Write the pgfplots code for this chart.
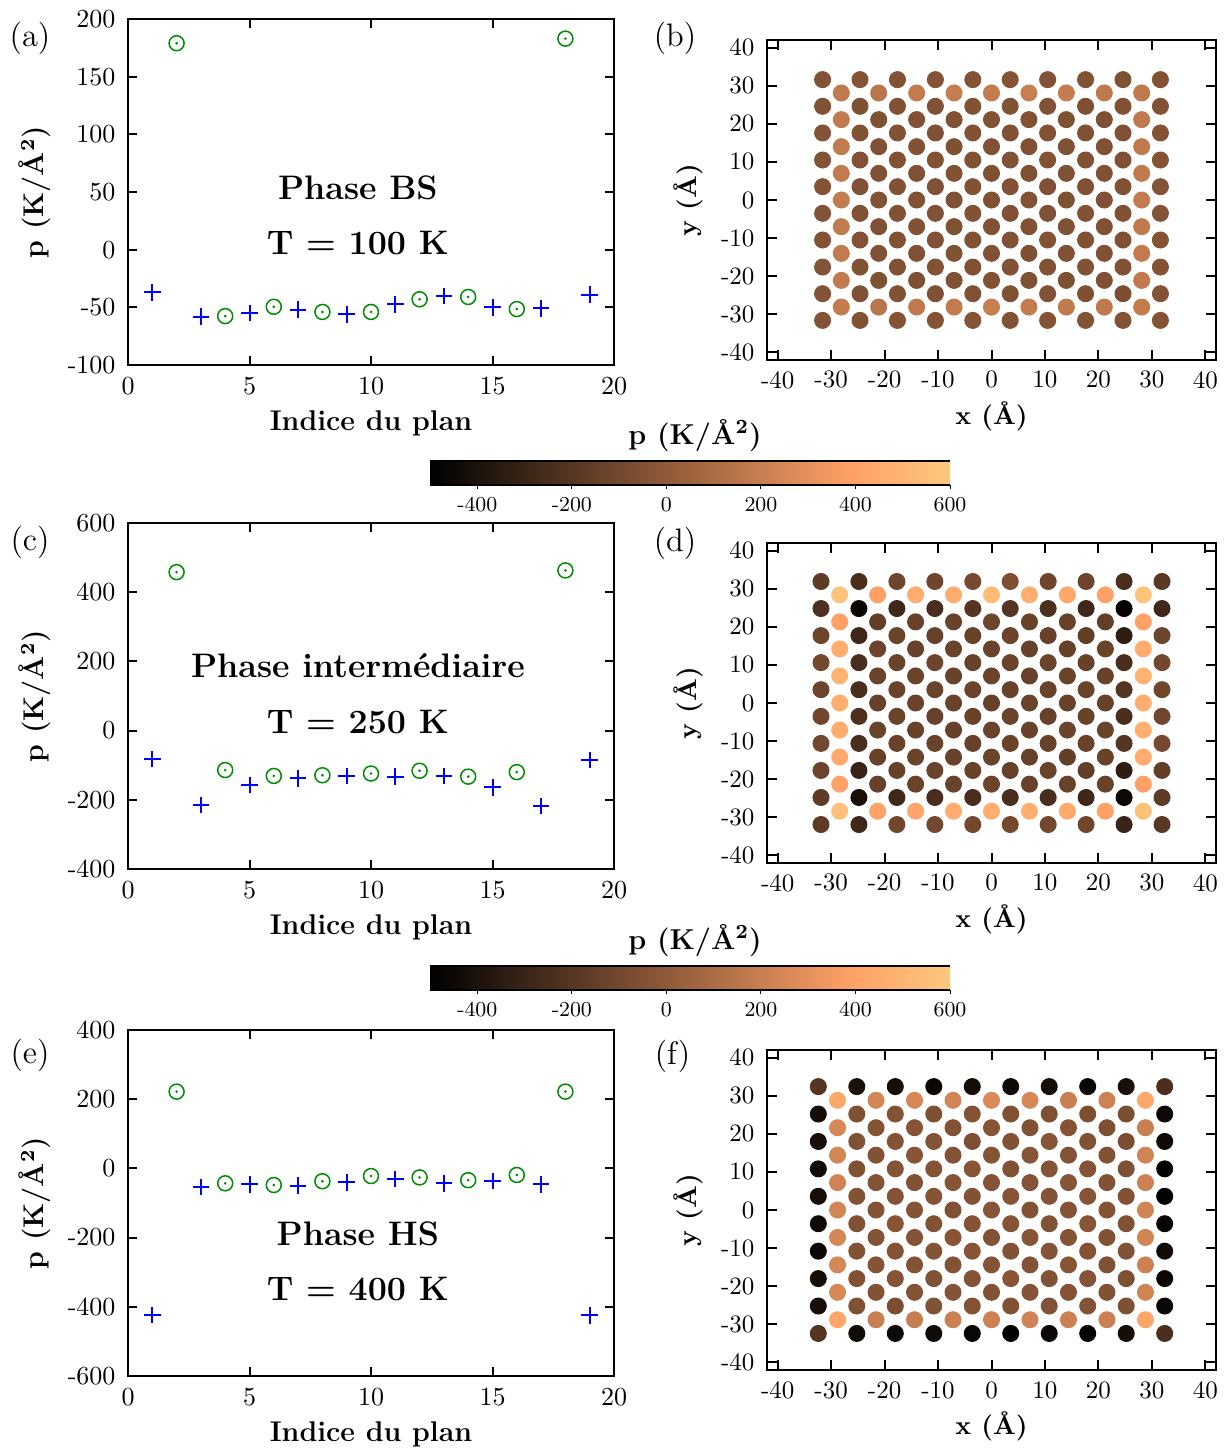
\documentclass[border=0pt]{standalone}
\usepackage{pgfplots}
\usepackage{pgfplotstable}
\pgfplotsset{compat=1.18}
\definecolor{copkink}{rgb}{1,0.6324,0.4027}
\definecolor{copend}{rgb}{1,0.7812,0.4975}
\pgfplotsset{
  colormap={copperx}{rgb(0cm)=(0,0,0) rgb(8.095cm)=(1,0.6324,0.4027) rgb(10cm)=(1,0.7812,0.4975)},
  leftax/.style={
    scale only axis, width=194.4pt, height=138.4pt,
    xmin=0, xmax=20, xtick={0,5,10,15,20}, xticklabels={0,5,10,15,20},
    tick align=inside, major tick length=3.5pt,
    axis line style={line width=0.8pt}, tick style={line width=0.8pt, black},
    ticklabel style={font=\fontsize{10.4}{12}\selectfont},
    xticklabel style={yshift=-1.5pt}, yticklabel style={xshift=-1.5pt},
    label style={font=\fontsize{11.4}{13}\selectfont},
    xlabel={\textbf{Indice du plan}},
    ylabel={\textbf{p (K/\AA$^{\mathbf{2}}$)}},
    xlabel style={at={(axis description cs:0.5,-0.168)}, anchor=center},
    ylabel style={at={(axis description cs:-0.191,0.5)}, anchor=center},
  },
  mapax/.style={
    scale only axis, width=179.6pt, height=128pt,
    xmin=-42, xmax=42, ymin=-42, ymax=42,
    xtick={-40,-30,...,40}, ytick={-40,-30,...,40},
    xticklabels={-40,-30,-20,-10,0,10,20,30,40},
    yticklabels={-40,-30,-20,-10,0,10,20,30,40},
    tick align=inside, major tick length=4pt,
    axis line style={line width=0.8pt}, tick style={line width=0.8pt, black},
    ticklabel style={font=\fontsize{10}{12}\selectfont},
    xticklabel style={yshift=-1pt}, yticklabel style={xshift=-1.5pt},
    label style={font=\fontsize{10.5}{12}\selectfont},
    xlabel={\textbf{x (\AA)}}, ylabel={\textbf{y (\AA)}},
    xlabel style={at={(axis description cs:0.5,-0.175)}, anchor=center},
    ylabel style={at={(axis description cs:-0.176,0.5)}, anchor=center},
    point meta min=-500, point meta max=600, colormap name=copperx,
  },
  dots/.style={scatter, only marks, mark=*, mark size=3.2pt,
    scatter src=explicit,
    scatter/use mapped color={draw=mapped color, fill=mapped color}},
  crosses/.style={only marks, mark=+, blue, mark size=3.3pt, mark options={line width=0.8pt}},
  circs/.style={only marks, mark=o, color={rgb,1:red,0;green,0.55;blue,0}, mark size=3pt, mark options={line width=0.6pt}},
  cdots/.style={only marks, mark=*, color={rgb,1:red,0;green,0.55;blue,0}, mark size=0.3pt},
  cbarax/.style={scale only axis, width=208pt, height=9.6pt,
    xmin=-500, xmax=600, ymin=0, ymax=1, ytick=\empty,
    xtick={-400,-200,0,200,400,600}, xticklabels={-400,-200,0,200,400,600},
    xtick pos=lower, tick align=outside, major tick length=1.5pt, tick style={black, line width=0.4pt},
    separate axis lines, y axis line style={draw=none},
    x axis line style={line width=0.6pt}, axis on top,
    xticklabel style={font=\fontsize{8.5}{10}\selectfont},
  },
}

\pgfplotstableread[row sep=\\]{
x y p\\
-31.6 31.6 -45\\ -24.6 31.6 -40\\ -17.6 31.6 -48\\ -10.5 31.6 -42\\ -3.5 31.6 -40\\ 3.5 31.6 -38\\ 10.5 31.6 -45\\ 17.6 31.6 -48\\ 24.6 31.6 -55\\ 31.6 31.6 -45\\
-28.1 28.1 175\\ -21.1 28.1 150\\ -14.0 28.1 180\\ -7.0 28.1 190\\ 0 28.1 185\\ 7.0 28.1 195\\ 14.0 28.1 185\\ 21.1 28.1 170\\ 28.1 28.1 170\\
-31.6 24.6 -45\\ -24.6 24.6 -55\\ -17.6 24.6 -52\\ -10.5 24.6 -45\\ -3.5 24.6 -50\\ 3.5 24.6 -48\\ 10.5 24.6 -45\\ 17.6 24.6 -60\\ 24.6 24.6 -50\\ 31.6 24.6 -45\\
-28.1 21.1 175\\ -21.1 21.1 -55\\ -14.0 21.1 -50\\ -7.0 21.1 -52\\ 0 21.1 -48\\ 7.0 21.1 -50\\ 14.0 21.1 -55\\ 21.1 21.1 -60\\ 28.1 21.1 170\\
-31.6 17.6 -40\\ -24.6 17.6 -50\\ -17.6 17.6 -48\\ -10.5 17.6 -52\\ -3.5 17.6 -45\\ 3.5 17.6 -50\\ 10.5 17.6 -48\\ 17.6 17.6 -50\\ 24.6 17.6 -52\\ 31.6 17.6 -40\\
-28.1 14.0 178\\ -21.1 14.0 -52\\ -14.0 14.0 -48\\ -7.0 14.0 -55\\ 0 14.0 -50\\ 7.0 14.0 -52\\ 14.0 14.0 -50\\ 21.1 14.0 -55\\ 28.1 14.0 175\\
-31.6 10.5 -42\\ -24.6 10.5 -48\\ -17.6 10.5 -50\\ -10.5 10.5 -45\\ -3.5 10.5 -50\\ 3.5 10.5 -48\\ 10.5 10.5 -45\\ 17.6 10.5 -50\\ 24.6 10.5 -52\\ 31.6 10.5 -40\\
-28.1 7.0 180\\ -21.1 7.0 -50\\ -14.0 7.0 -52\\ -7.0 7.0 -48\\ 0 7.0 -55\\ 7.0 7.0 -50\\ 14.0 7.0 -52\\ 21.1 7.0 -50\\ 28.1 7.0 172\\
-31.6 3.5 -40\\ -24.6 3.5 -52\\ -17.6 3.5 -45\\ -10.5 3.5 -50\\ -3.5 3.5 -48\\ 3.5 3.5 -45\\ 10.5 3.5 -50\\ 17.6 3.5 -52\\ 24.6 3.5 -45\\ 31.6 3.5 -42\\
-28.1 0 182\\ -21.1 0 -48\\ -14.0 0 -50\\ -7.0 0 -52\\ 0 0 -50\\ 7.0 0 -48\\ 14.0 0 -50\\ 21.1 0 -52\\ 28.1 0 185\\
-31.6 -3.5 -42\\ -24.6 -3.5 -50\\ -17.6 -3.5 -52\\ -10.5 -3.5 -48\\ -3.5 -3.5 -45\\ 3.5 -3.5 -50\\ 10.5 -3.5 -52\\ 17.6 -3.5 -45\\ 24.6 -3.5 -50\\ 31.6 -3.5 -40\\
-28.1 -7.0 178\\ -21.1 -7.0 -52\\ -14.0 -7.0 -48\\ -7.0 -7.0 -50\\ 0 -7.0 -52\\ 7.0 -7.0 -50\\ 14.0 -7.0 -48\\ 21.1 -7.0 -50\\ 28.1 -7.0 175\\
-31.6 -10.5 -40\\ -24.6 -10.5 -45\\ -17.6 -10.5 -50\\ -10.5 -10.5 -52\\ -3.5 -10.5 -48\\ 3.5 -10.5 -50\\ 10.5 -10.5 -45\\ 17.6 -10.5 -48\\ 24.6 -10.5 -50\\ 31.6 -10.5 -42\\
-28.1 -14.0 180\\ -21.1 -14.0 -50\\ -14.0 -14.0 -52\\ -7.0 -14.0 -48\\ 0 -14.0 -50\\ 7.0 -14.0 -55\\ 14.0 -14.0 -50\\ 21.1 -14.0 -52\\ 28.1 -14.0 180\\
-31.6 -17.6 -42\\ -24.6 -17.6 -48\\ -17.6 -17.6 -50\\ -10.5 -17.6 -45\\ -3.5 -17.6 -50\\ 3.5 -17.6 -48\\ 10.5 -17.6 -50\\ 17.6 -17.6 -45\\ 24.6 -17.6 -48\\ 31.6 -17.6 -40\\
-28.1 -21.1 175\\ -21.1 -21.1 -55\\ -14.0 -21.1 -60\\ -7.0 -21.1 -52\\ 0 -21.1 -50\\ 7.0 -21.1 -55\\ 14.0 -21.1 -62\\ 21.1 -21.1 -58\\ 28.1 -21.1 172\\
-31.6 -24.6 -40\\ -24.6 -24.6 -52\\ -17.6 -24.6 -48\\ -10.5 -24.6 -50\\ -3.5 -24.6 -52\\ 3.5 -24.6 -50\\ 10.5 -24.6 -48\\ 17.6 -24.6 -55\\ 24.6 -24.6 -70\\ 31.6 -24.6 -42\\
-28.1 -28.1 185\\ -21.1 -28.1 150\\ -14.0 -28.1 170\\ -7.0 -28.1 180\\ 0 -28.1 190\\ 7.0 -28.1 185\\ 14.0 -28.1 175\\ 21.1 -28.1 170\\ 28.1 -28.1 180\\
-31.6 -31.6 -42\\ -24.6 -31.6 -45\\ -17.6 -31.6 -40\\ -10.5 -31.6 -42\\ -3.5 -31.6 -38\\ 3.5 -31.6 -45\\ 10.5 -31.6 -40\\ 17.6 -31.6 -42\\ 24.6 -31.6 -45\\ 31.6 -31.6 -40\\
}\tabB

\pgfplotstableread[row sep=\\]{
x y p\\
-31.9 31.9 -175\\ -24.8 31.9 -245\\ -17.7 31.9 -113\\ -10.6 31.9 -113\\ -3.5 31.9 -89\\ 3.5 31.9 -61\\ 10.6 31.9 -113\\ 17.7 31.9 -119\\ 24.8 31.9 -245\\ 31.9 31.9 -190\\
-28.4 28.4 570\\ -21.3 28.4 390\\ -14.2 28.4 450\\ -7.1 28.4 450\\ 0 28.4 540\\ 7.1 28.4 460\\ 14.2 28.4 430\\ 21.3 28.4 390\\ 28.4 28.4 570\\
-31.9 24.8 -230\\ -24.8 24.8 -460\\ -17.7 24.8 -280\\ -10.6 24.8 -245\\ -3.5 24.8 -207\\ 3.5 24.8 -207\\ 10.6 24.8 -230\\ 17.7 24.8 -280\\ 24.8 24.8 -480\\ 31.9 24.8 -280\\
-28.4 21.3 390\\ -21.3 21.3 -150\\ -14.2 21.3 -140\\ -7.1 21.3 -135\\ 0 21.3 -120\\ 7.1 21.3 -135\\ 14.2 21.3 -140\\ 21.3 21.3 -150\\ 28.4 21.3 390\\
-31.9 17.7 -120\\ -24.8 17.7 -280\\ -17.7 17.7 -130\\ -10.6 17.7 -140\\ -3.5 17.7 -135\\ 3.5 17.7 -125\\ 10.6 17.7 -140\\ 17.7 17.7 -150\\ 24.8 17.7 -340\\ 31.9 17.7 -120\\
-28.4 14.2 450\\ -21.3 14.2 -125\\ -14.2 14.2 -140\\ -7.1 14.2 -130\\ 0 14.2 -135\\ 7.1 14.2 -140\\ 14.2 14.2 -145\\ 21.3 14.2 -130\\ 28.4 14.2 450\\
-31.9 10.6 -100\\ -24.8 10.6 -245\\ -17.7 10.6 -135\\ -10.6 10.6 -120\\ -3.5 10.6 -140\\ 3.5 10.6 -130\\ 10.6 10.6 -125\\ 17.7 10.6 -140\\ 24.8 10.6 -245\\ 31.9 10.6 -100\\
-28.4 7.1 490\\ -21.3 7.1 -130\\ -14.2 7.1 -125\\ -7.1 7.1 -135\\ 0 7.1 -130\\ 7.1 7.1 -140\\ 14.2 7.1 -130\\ 21.3 7.1 -135\\ 28.4 7.1 490\\
-31.9 3.5 -120\\ -24.8 3.5 -245\\ -17.7 3.5 -135\\ -10.6 3.5 -130\\ -3.5 3.5 -125\\ 3.5 3.5 -140\\ 10.6 3.5 -135\\ 17.7 3.5 -130\\ 24.8 3.5 -207\\ 31.9 3.5 -110\\
-28.4 0 460\\ -21.3 0 -140\\ -14.2 0 -130\\ -7.1 0 -135\\ 0 0 -145\\ 7.1 0 -130\\ 14.2 0 -140\\ 21.3 0 -135\\ 28.4 0 460\\
-31.9 -3.5 -110\\ -24.8 -3.5 -230\\ -17.7 -3.5 -130\\ -10.6 -3.5 -140\\ -3.5 -3.5 -135\\ 3.5 -3.5 -130\\ 10.6 -3.5 -140\\ 17.7 -3.5 -135\\ 24.8 -3.5 -245\\ 31.9 -3.5 -110\\
-28.4 -7.1 450\\ -21.3 -7.1 -130\\ -14.2 -7.1 -140\\ -7.1 -7.1 -145\\ 0 -7.1 -130\\ 7.1 -7.1 -135\\ 14.2 -7.1 -125\\ 21.3 -7.1 -130\\ 28.4 -7.1 470\\
-31.9 -10.6 -100\\ -24.8 -10.6 -245\\ -17.7 -10.6 -135\\ -10.6 -10.6 -130\\ -3.5 -10.6 -140\\ 3.5 -10.6 -130\\ 10.6 -10.6 -135\\ 17.7 -10.6 -140\\ 24.8 -10.6 -207\\ 31.9 -10.6 -90\\
-28.4 -14.2 440\\ -21.3 -14.2 -140\\ -14.2 -14.2 -130\\ -7.1 -14.2 -135\\ 0 -14.2 -130\\ 7.1 -14.2 -140\\ 14.2 -14.2 -150\\ 21.3 -14.2 -135\\ 28.4 -14.2 450\\
-31.9 -17.7 -120\\ -24.8 -17.7 -300\\ -17.7 -17.7 -140\\ -10.6 -17.7 -130\\ -3.5 -17.7 -135\\ 3.5 -17.7 -140\\ 10.6 -17.7 -130\\ 17.7 -17.7 -150\\ 24.8 -17.7 -341\\ 31.9 -17.7 -150\\
-28.4 -21.3 400\\ -21.3 -21.3 -140\\ -14.2 -21.3 -135\\ -7.1 -21.3 -130\\ 0 -21.3 -125\\ 7.1 -21.3 -135\\ 14.2 -21.3 -140\\ 21.3 -21.3 -135\\ 28.4 -21.3 390\\
-31.9 -24.8 -175\\ -24.8 -24.8 -410\\ -17.7 -24.8 -280\\ -10.6 -24.8 -245\\ -3.5 -24.8 -245\\ 3.5 -24.8 -245\\ 10.6 -24.8 -245\\ 17.7 -24.8 -280\\ 24.8 -24.8 -450\\ 31.9 -24.8 -175\\
-28.4 -28.4 560\\ -21.3 -28.4 400\\ -14.2 -28.4 410\\ -7.1 -28.4 450\\ 0 -28.4 460\\ 7.1 -28.4 460\\ 14.2 -28.4 440\\ 21.3 -28.4 390\\ 28.4 -28.4 560\\
-31.9 -31.9 -175\\ -24.8 -31.9 -280\\ -17.7 -31.9 -110\\ -10.6 -31.9 -100\\ -3.5 -31.9 -100\\ 3.5 -31.9 -100\\ 10.6 -31.9 -100\\ 17.7 -31.9 -110\\ 24.8 -31.9 -300\\ 31.9 -31.9 -190\\
}\tabD

\pgfplotstableread[row sep=\\]{
x y p\\
-32.4 32.4 -200\\ -25.2 32.4 -410\\ -18.0 32.4 -430\\ -10.8 32.4 -465\\ -3.6 32.4 -430\\ 3.6 32.4 -450\\ 10.8 32.4 -430\\ 18.0 32.4 -465\\ 25.2 32.4 -410\\ 32.4 32.4 -240\\
-28.8 28.8 430\\ -21.6 28.8 240\\ -14.4 28.8 250\\ -7.2 28.8 230\\ 0 28.8 260\\ 7.2 28.8 250\\ 14.4 28.8 200\\ 21.6 28.8 220\\ 28.8 28.8 430\\
-32.4 25.2 -430\\ -25.2 25.2 -55\\ -18.0 25.2 -45\\ -10.8 25.2 -60\\ -3.6 25.2 -40\\ 3.6 25.2 -50\\ 10.8 25.2 -55\\ 18.0 25.2 -60\\ 25.2 25.2 -65\\ 32.4 25.2 -450\\
-28.8 21.6 250\\ -21.6 21.6 -40\\ -14.4 21.6 -35\\ -7.2 21.6 -50\\ 0 21.6 -30\\ 7.2 21.6 -45\\ 14.4 21.6 -40\\ 21.6 21.6 -60\\ 28.8 21.6 200\\
-32.4 18.0 -420\\ -25.2 18.0 -50\\ -18.0 18.0 -40\\ -10.8 18.0 -35\\ -3.6 18.0 -60\\ 3.6 18.0 -45\\ 10.8 18.0 -30\\ 18.0 18.0 -50\\ 25.2 18.0 -70\\ 32.4 18.0 -445\\
-28.8 14.4 240\\ -21.6 14.4 -45\\ -14.4 14.4 -30\\ -7.2 14.4 -40\\ 0 14.4 -35\\ 7.2 14.4 -25\\ 14.4 14.4 -40\\ 21.6 14.4 -45\\ 28.8 14.4 230\\
-32.4 10.8 -440\\ -25.2 10.8 -50\\ -18.0 10.8 -35\\ -10.8 10.8 -40\\ -3.6 10.8 -30\\ 3.6 10.8 -50\\ 10.8 10.8 -35\\ 18.0 10.8 -40\\ 25.2 10.8 -55\\ 32.4 10.8 -490\\
-28.8 7.2 225\\ -21.6 7.2 -40\\ -14.4 7.2 -45\\ -7.2 7.2 -30\\ 0 7.2 -40\\ 7.2 7.2 -35\\ 14.4 7.2 -30\\ 21.6 7.2 -45\\ 28.8 7.2 215\\
-32.4 3.6 -420\\ -25.2 3.6 -45\\ -18.0 3.6 -40\\ -10.8 3.6 -35\\ -3.6 3.6 -45\\ 3.6 3.6 -30\\ 10.8 3.6 -40\\ 18.0 3.6 -35\\ 25.2 3.6 -50\\ 32.4 3.6 -495\\
-28.8 0 235\\ -21.6 0 -35\\ -14.4 0 -40\\ -7.2 0 -50\\ 0 0 -30\\ 7.2 0 -45\\ 14.4 0 -35\\ 21.6 0 -40\\ 28.8 0 230\\
-32.4 -3.6 -445\\ -25.2 -3.6 -50\\ -18.0 -3.6 -30\\ -10.8 -3.6 -45\\ -3.6 -3.6 -40\\ 3.6 -3.6 -35\\ 10.8 -3.6 -45\\ 18.0 -3.6 -30\\ 25.2 -3.6 -50\\ 32.4 -3.6 -470\\
-28.8 -7.2 240\\ -21.6 -7.2 -40\\ -14.4 -7.2 -35\\ -7.2 -7.2 -30\\ 0 -7.2 -45\\ 7.2 -7.2 -30\\ 14.4 -7.2 -40\\ 21.6 -7.2 -45\\ 28.8 -7.2 230\\
-32.4 -10.8 -460\\ -25.2 -10.8 -45\\ -18.0 -10.8 -40\\ -10.8 -10.8 -35\\ -3.6 -10.8 -30\\ 3.6 -10.8 -45\\ 10.8 -10.8 -35\\ 18.0 -10.8 -40\\ 25.2 -10.8 -45\\ 32.4 -10.8 -440\\
-28.8 -14.4 245\\ -21.6 -14.4 -35\\ -14.4 -14.4 -45\\ -7.2 -14.4 -40\\ 0 -14.4 -35\\ 7.2 -14.4 -40\\ 14.4 -14.4 -30\\ 21.6 -14.4 -50\\ 28.8 -14.4 215\\
-32.4 -18.0 -430\\ -25.2 -18.0 -50\\ -18.0 -18.0 -35\\ -10.8 -18.0 -45\\ -3.6 -18.0 -40\\ 3.6 -18.0 -30\\ 10.8 -18.0 -45\\ 18.0 -18.0 -35\\ 25.2 -18.0 -55\\ 32.4 -18.0 -455\\
-28.8 -21.6 250\\ -21.6 -21.6 -45\\ -14.4 -21.6 -40\\ -7.2 -21.6 -35\\ 0 -21.6 -45\\ 7.2 -21.6 -35\\ 14.4 -21.6 -40\\ 21.6 -21.6 -45\\ 28.8 -21.6 230\\
-32.4 -25.2 -420\\ -25.2 -25.2 -50\\ -18.0 -25.2 -70\\ -10.8 -25.2 -45\\ -3.6 -25.2 -40\\ 3.6 -25.2 -50\\ 10.8 -25.2 -45\\ 18.0 -25.2 -40\\ 25.2 -25.2 -55\\ 32.4 -25.2 -460\\
-28.8 -28.8 420\\ -21.6 -28.8 200\\ -14.4 -28.8 195\\ -7.2 -28.8 210\\ 0 -28.8 220\\ 7.2 -28.8 225\\ 14.4 -28.8 210\\ 21.6 -28.8 205\\ 28.8 -28.8 410\\
-32.4 -32.4 -210\\ -25.2 -32.4 -440\\ -18.0 -32.4 -445\\ -10.8 -32.4 -440\\ -3.6 -32.4 -460\\ 3.6 -32.4 -490\\ 10.8 -32.4 -455\\ 18.0 -32.4 -490\\ 25.2 -32.4 -430\\ 32.4 -32.4 -240\\
}\tabF

\begin{document}
\begin{tikzpicture}
\useasboundingbox (0pt,0pt) rectangle (489.6pt,-580.8pt);

% (a)
\begin{axis}[leftax, at={(51.2pt,-146pt)}, anchor=south west,
  ymin=-100, ymax=200, ytick={-100,-50,0,50,100,150,200},
  yticklabels={-100,-50,0,50,100,150,200}]
\addplot[crosses] coordinates {(1,-37) (3,-58) (5,-55) (7,-52) (9,-56) (11,-47.5) (13,-40) (15,-50) (17,-51) (19,-39)};
\addplot[circs] coordinates {(2,179) (4,-57.6) (6,-49.5) (8,-54) (10,-54) (12,-43) (14,-41) (16,-51.5) (18,183)};
\addplot[cdots] coordinates {(2,179) (4,-57.6) (6,-49.5) (8,-54) (10,-54) (12,-43) (14,-41) (16,-51.5) (18,183)};
\node[font=\fontsize{13.6}{16}\selectfont] at (axis description cs:0.473,0.512) {\textbf{Phase BS}};
\node[font=\fontsize{13.6}{16}\selectfont] at (axis description cs:0.473,0.353) {\textbf{T = 100 K}};
\end{axis}

% (c)
\begin{axis}[leftax, at={(51.2pt,-347.6pt)}, anchor=south west,
  ymin=-400, ymax=600, ytick={-400,-200,0,200,400,600},
  yticklabels={-400,-200,0,200,400,600}]
\addplot[crosses] coordinates {(1,-82) (3,-215) (5,-157) (7,-138) (9,-131) (11,-133) (13,-131) (15,-164) (17,-218) (19,-85)};
\addplot[circs] coordinates {(2,458) (4,-114) (6,-131) (8,-129) (10,-124) (12,-116) (14,-133) (16,-120) (18,463)};
\addplot[cdots] coordinates {(2,458) (4,-114) (6,-131) (8,-129) (10,-124) (12,-116) (14,-133) (16,-120) (18,463)};
\node[font=\fontsize{13.6}{16}\selectfont] at (axis description cs:0.473,0.587) {\textbf{Phase intermédiaire}};
\node[font=\fontsize{13.6}{16}\selectfont] at (axis description cs:0.473,0.425) {\textbf{T = 250 K}};
\end{axis}

% (e)
\begin{axis}[leftax, at={(51.2pt,-550.4pt)}, anchor=south west,
  ymin=-600, ymax=400, ytick={-600,-400,-200,0,200,400},
  yticklabels={-600,-400,-200,0,200,400}]
\addplot[crosses] coordinates {(1,-424) (3,-53) (5,-46) (7,-50) (9,-40.5) (11,-31) (13,-43) (15,-37) (17,-46) (19,-425)};
\addplot[circs] coordinates {(2,222) (4,-43) (6,-48) (8,-37) (10,-22) (12,-26) (14,-34) (16,-19) (18,222)};
\addplot[cdots] coordinates {(2,222) (4,-43) (6,-48) (8,-37) (10,-22) (12,-26) (14,-34) (16,-19) (18,222)};
\node[font=\fontsize{13.6}{16}\selectfont] at (axis description cs:0.473,0.410) {\textbf{Phase HS}};
\node[font=\fontsize{13.6}{16}\selectfont] at (axis description cs:0.473,0.251) {\textbf{T = 400 K}};
\end{axis}

% (b)
\begin{axis}[mapax, at={(306.8pt,-144pt)}, anchor=south west]
\addplot[dots] table[x=x, y=y, meta=p] {\tabB};
\end{axis}

% (d)
\begin{axis}[mapax, at={(306.8pt,-345.2pt)}, anchor=south west]
\addplot[dots] table[x=x, y=y, meta=p] {\tabD};
\end{axis}

% (f)
\begin{axis}[mapax, at={(306.8pt,-548pt)}, anchor=south west]
\addplot[dots] table[x=x, y=y, meta=p] {\tabF};
\end{axis}

% colorbars (copper colormap, p from -500 to 600)
\begin{axis}[cbarax, at={(172pt,-194pt)}, anchor=south west]
\fill[left color=black, right color=copkink] (axis cs:-500,0) rectangle (axis cs:390.45,1);
\fill[left color=copkink, right color=copend] (axis cs:390.45,0) rectangle (axis cs:600,1);
\end{axis}
\begin{axis}[cbarax, at={(172pt,-396pt)}, anchor=south west]
\fill[left color=black, right color=copkink] (axis cs:-500,0) rectangle (axis cs:390.45,1);
\fill[left color=copkink, right color=copend] (axis cs:390.45,0) rectangle (axis cs:600,1);
\end{axis}
\node[font=\fontsize{11.5}{13}\selectfont] at (278pt,-174.4pt) {\textbf{p (K/\AA$^{\mathbf{2}}$)}};
\node[font=\fontsize{11.5}{13}\selectfont] at (278pt,-376.4pt) {\textbf{p (K/\AA$^{\mathbf{2}}$)}};

% panel letters
\node[font=\fontsize{13}{15}\selectfont] at (12pt,-15.2pt) {(a)};
\node[font=\fontsize{13}{15}\selectfont] at (270pt,-15.2pt) {(b)};
\node[font=\fontsize{13}{15}\selectfont] at (12pt,-216.8pt) {(c)};
\node[font=\fontsize{13}{15}\selectfont] at (270pt,-217.2pt) {(d)};
\node[font=\fontsize{13}{15}\selectfont] at (12pt,-422pt) {(e)};
\node[font=\fontsize{13}{15}\selectfont] at (269pt,-422.4pt) {(f)};
\end{tikzpicture}
\end{document}
